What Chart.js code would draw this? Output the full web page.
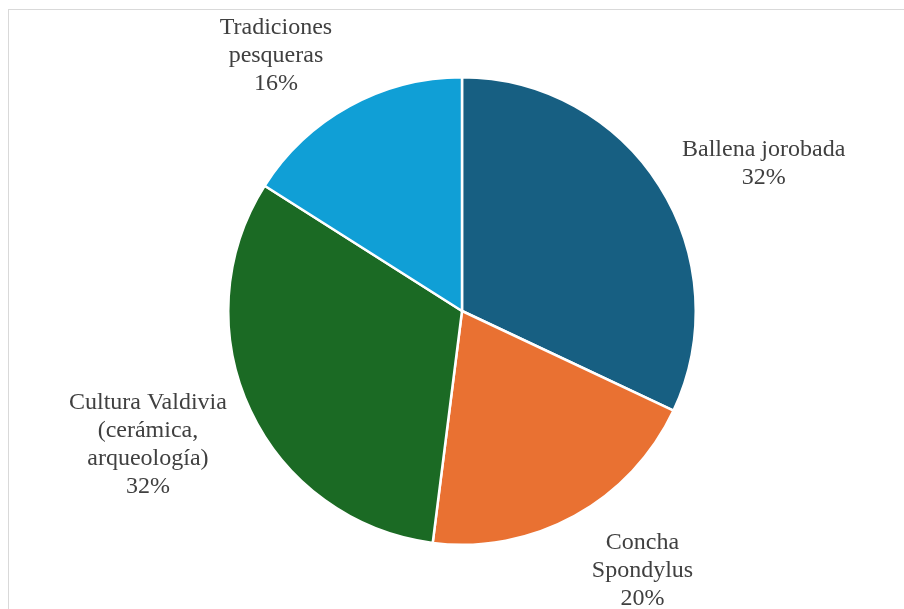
<!DOCTYPE html>
<html>
<head>
<meta charset="utf-8">
<script src="https://cdn.jsdelivr.net/npm/chart.js@4/dist/chart.umd.min.js"></script>
<style>
  html, body { margin: 0; padding: 0; background: #fff; }
  #frame {
    position: absolute; left: 8px; top: 9px; width: 896px; height: 600px;
    border-left: 1px solid #d9d9d9; border-top: 1px solid #d9d9d9;
  }
  #wrap { position: absolute; left: 0; top: 0; width: 904px; height: 609px; }
</style>
</head>
<body>
<div id="frame"></div>
<div id="wrap"><canvas id="pie" width="904" height="609"></canvas></div>
<script>
const categories = [
    ['Ballena jorobada'],
    ['Concha', 'Spondylus'],
    ['Cultura Valdivia', '(cerámica,', 'arqueología)'],
    ['Tradiciones', 'pesqueras']
];
const shares = [32, 20, 32, 16];
const colors = ['#175f82', '#e97132', '#1b6a24', '#109fd6'];

const fontSize = 24;
const lineHeight = 28;

// writes "name / NN%" next to each slice, pushed away from the pie edge
const outsideLabels = {
    id: 'outsideLabels',
    afterDatasetsDraw(chart) {
        const ctx = chart.ctx;
        const meta = chart.getDatasetMeta(0);
        ctx.save();
        ctx.font = fontSize + 'px "Liberation Serif", "Times New Roman", serif';
        ctx.fillStyle = '#404040';
        ctx.textAlign = 'center';
        ctx.textBaseline = 'middle';
        meta.data.forEach((arc, i) => {
            const lines = categories[i].concat([shares[i] + '%']);
            const mid = (arc.startAngle + arc.endAngle) / 2;
            const dx = Math.cos(mid), dy = Math.sin(mid);
            const gap = 15;
            const ex = arc.x + dx * (arc.outerRadius + gap) + Math.sign(dx) * 10;
            const ey = arc.y + dy * (arc.outerRadius + gap) + 2;
            let w = 0;
            lines.forEach(l => { w = Math.max(w, ctx.measureText(l).width); });
            const h = lines.length * lineHeight;
            const cx = ex + Math.sign(dx) * w / 2;
            const cy = ey + dy * h / 2 * 1.08;
            lines.forEach((l, j) => {
                ctx.fillText(l, cx, cy - h / 2 + lineHeight * (j + 0.5));
            });
        });
        ctx.restore();
    }
};

new Chart(document.getElementById('pie'), {
    type: 'pie',
    data: {
        labels: categories.map(c => c.join(' ')),
        datasets: [{
            data: shares,
            backgroundColor: colors,
            borderColor: '#ffffff',
            borderWidth: 2.5
        }]
    },
    options: {
        responsive: false,
        animation: false,
        layout: { padding: { left: 227, right: 207, top: 76, bottom: 63 } },
        plugins: {
            legend: { display: false },
            tooltip: { enabled: false }
        }
    },
    plugins: [outsideLabels]
});
</script>
</body>
</html>
